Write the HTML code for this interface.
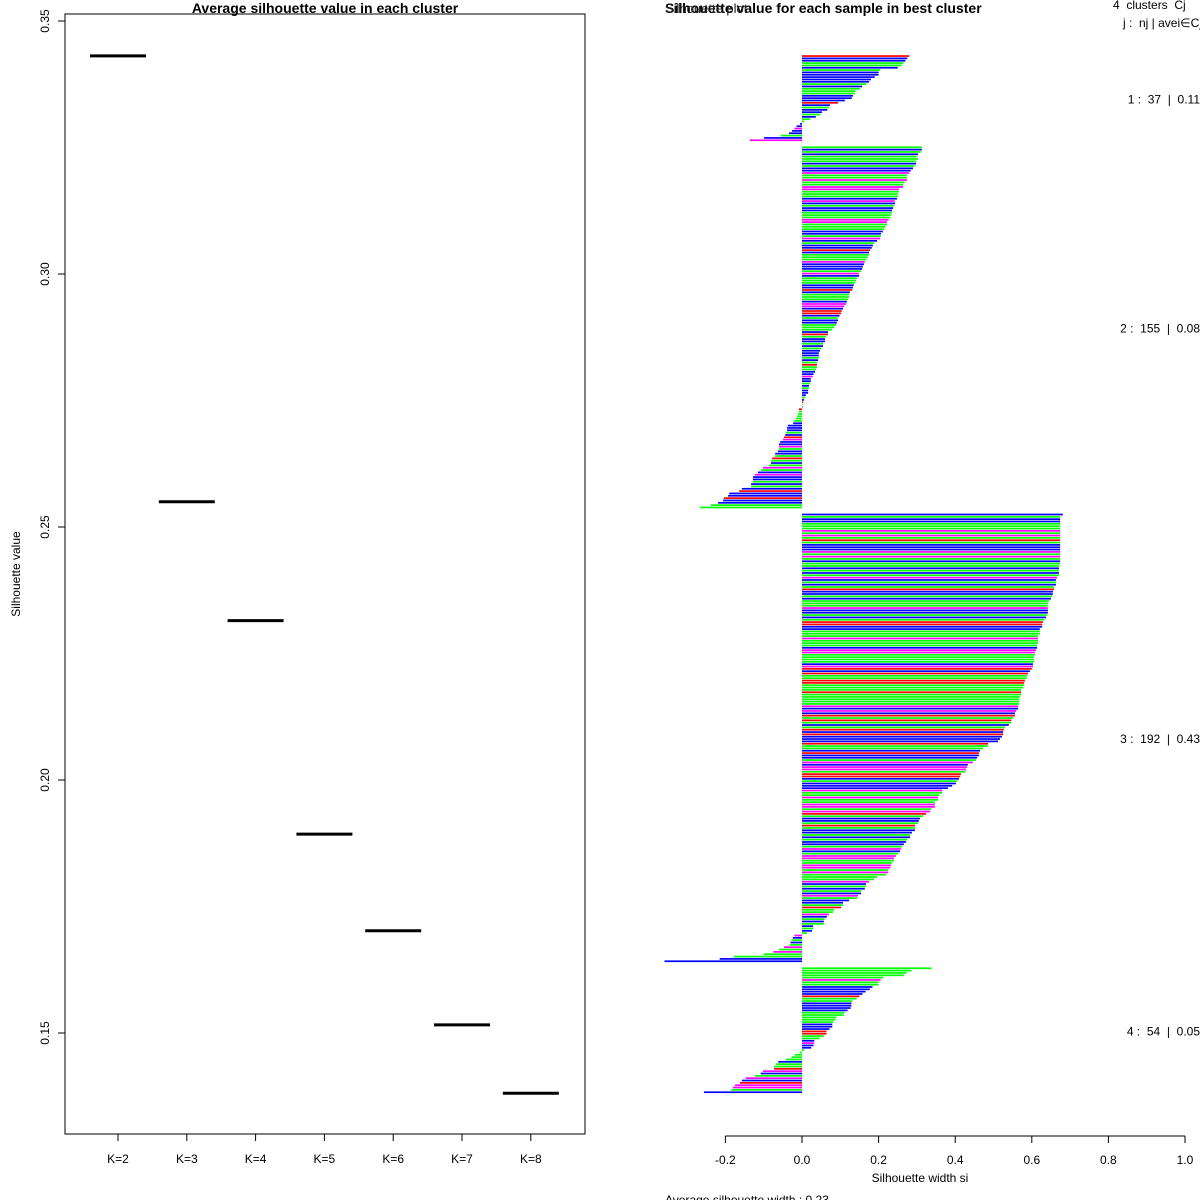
<!DOCTYPE html>
<html><head><meta charset="utf-8"><style>
html,body{margin:0;padding:0;background:#fff}
svg{display:block;font-family:"Liberation Sans",sans-serif}
</style></head><body>
<svg id="chart" width="1200" height="1200" viewBox="0 0 1200 1200">
<g id="left"></g>
<g id="right"></g>
</svg>
<script>
// ---- left panel data ----
const kLabels = ["K=2","K=3","K=4","K=5","K=6","K=7","K=8"];
const avgSil = [0.3431,0.2550,0.2315,0.1893,0.1702,0.1516,0.1381];
const yTicks = [0.15,0.20,0.25,0.30,0.35];

// ---- right panel data ----
const xTicks = [-0.2,0,0.2,0.4,0.6,0.8,1.0];
const clusterSizes = [37,155,192,54];
const clusterAvg = ["0.11","0.08","0.43","0.05"];
const c1 = [.28,.275,.27,.265,.26,.25,.204,.2,.2,.19,.18,.175,.168,.157,.151,.14,.138,.133,.13,.112,.094,.073,.07,.066,.052,.047,.036,.021,.006,-.005,-.014,-.02,-.026,-.034,-.055,-.099,-.136];
const c2 = [.313,.313,.31,.303,.3,.303,.298,.298,.294,.29,.284,.28,.274,.274,.274,.268,.264,.264,.253,.253,.25,.25,.248,.242,.243,.24,.238,.235,.235,.232,.23,.226,.222,.222,.218,.214,.211,.206,.206,.204,.196,.188,.185,.182,.178,.175,.175,.172,.168,.164,.162,.159,.157,.154,.149,.149,.144,.141,.138,.135,.133,.131,.125,.123,.123,.12,.117,.115,.11,.107,.104,.102,.098,.094,.094,.091,.089,.084,.078,.068,.068,.063,.06,.06,.055,.055,.05,.047,.044,.044,.044,.042,.039,.039,.039,.037,.034,.03,.028,.023,.023,.021,.018,.018,.016,.016,.01,.008,.005,.003,.001,
0,-.008,-.008,-.01,-.013,-.016,-.021,-.023,-.037,-.039,-.039,-.042,-.044,-.047,-.05,-.057,-.06,-.06,-.06,-.063,-.07,-.07,-.078,-.081,-.081,-.086,-.102,-.107,-.115,-.123,-.128,-.128,-.128,-.133,-.133,-.157,-.164,-.19,-.193,-.204,-.206,-.219,-.238,-.266];
const c3 = [.681,.674,.674,.674,.674,.674,.674,.674,.674,.674,.674,.674,.674,.674,.674,.674,.674,.674,.674,.674,.674,.674,.671,.671,.671,.671,.671,.666,.663,.663,.663,.658,.658,.655,.655,.653,.65,.645,.642,.642,.642,.642,.642,.64,.637,.632,.629,.627,.627,.621,.621,.621,.616,.616,.616,.616,.614,.614,.611,.608,.608,.606,.606,.606,.603,.603,.6,.595,.59,.587,.587,.582,.58,.58,.577,.572,.572,.572,.569,.567,.567,.567,.564,.564,.559,.556,.556,.551,.546,.546,.54,.53,.527,.525,.525,.522,.517,.512,.486,.486,.473,.465,.462,.462,.457,.454,.446,.433,.431,.428,.426,.415,.413,.41,.405,.402,.392,.381,.366,.366,.358,.355,.355,.347,.347,.347,.337,.334,.324,.316,.308,.305,.303,.295,.295,.295,.287,.282,.282,.274,.272,.266,.261,.258,.256,.251,.245,.24,.24,.235,.232,.23,.225,.225,.219,.196,.188,.175,.167,.167,.164,.154,.154,.146,.144,.123,.107,.107,.102,.084,.081,.07,.065,.059,.057,.057,.029,.029,.026,.013,-.02,-.024,-.027,-.03,-.032,-.047,-.06,-.075,-.1,-.178,-.215,-.359];
const c4 = [.338,.286,.273,.266,.212,.205,.2,.2,.184,.177,.166,.158,.15,.143,.131,.129,.129,.127,.119,.111,.109,.09,.087,.082,.079,.079,.072,.064,.064,.057,.046,.032,.032,.03,.024,.006,-.006,-.019,-.027,-.042,-.062,-.068,-.073,-.073,-.102,-.108,-.123,-.147,-.157,-.162,-.175,-.18,-.185,-.256];
const col1 = "rbbggbgbbbbbgbgggbbbrbgbbgbggbbmbbgbm";
const col2 = "gbgbgggbgbbmggmggmmgggbmbgbbgggmmgggbbgmbgbbrbgggmbbbgmbgggbbrbgggbmmbrrbgbbgggbrgbbgbgbbbgbgrggbbmbbgbgbbbgbrgbrgggggbbbbgbrmbbmgbbgrgbgmgbmbbgbgbrbbrbbggm";
const col3 = "bgbbgggmgmgrgbbbmgmgbggbgbgmbgbgrbbgbgggmbbgbgrrbbgggmgggbmmggggbmrbrggrrgggrgggggmbmbrgrgbgrbrbbbrggbrbbgmbmmgrrbgbbbmggmggmmgmrgbbgrgbbgbgbbgmbgmmggmmgmgggmbgbgbmgbbgrggmbgbgbgbgmbgbgmgmggbbgbgggbmgg";
const col4 = "gggggmggbbbbrggbbbbgggggbbbrrggbmbbgggggbggrmbgmbrmmgbbb";
const colorMap = {r:"#ff0000",g:"#00ff00",b:"#0000ff",m:"#ff00ff"};

const NS = "http://www.w3.org/2000/svg";
function mk(tag, attrs, parent){const e=document.createElementNS(NS,tag);for(const k in attrs)e.setAttribute(k,attrs[k]);parent.appendChild(e);return e;}

// ---- left panel ----
const L = document.getElementById('left');
const ly = v => 21 + (0.35 - v) * 5060;
const lx = i => 118 + i * 68.8;
let t = mk('text',{x:325,y:13,'text-anchor':'middle','font-size':14,'font-weight':'bold'},L);
t.textContent = "Average silhouette value in each cluster";


let box = mk('rect',{x:65,y:14,width:520,height:1120,fill:'none',stroke:'#000','stroke-width':1},L);


yTicks.forEach(v=>{
  const y = ly(v);
  const tk = mk('line',{x1:58,x2:65,y1:y,y2:y,stroke:'#000'},L);
  
  
  const lb = mk('text',{x:49,y:y,'font-size':12,'text-anchor':'middle',transform:`rotate(-90 49 ${y})`},L);
  lb.textContent = v.toFixed(2);
  
  
});
let yl = mk('text',{x:20,y:574,'font-size':12,'text-anchor':'middle',transform:'rotate(-90 20 574)'},L);
yl.textContent = "Silhouette value";


kLabels.forEach((k,i)=>{
  const x = lx(i);
  const tk = mk('line',{x1:x,x2:x,y1:1134,y2:1141,stroke:'#000'},L);
  
  
  const lb = mk('text',{x:x,y:1163,'font-size':12,'text-anchor':'middle'},L);
  lb.textContent = k;
  
  
  const seg = mk('line',{x1:x-28,x2:x+28,y1:ly(avgSil[i]),y2:ly(avgSil[i]),stroke:'#000','stroke-width':3},L);
  
  
});

// ---- right panel ----
const R = document.getElementById('right');
const rx = v => 802 + v * 383;
const unit = 2.339, top0 = 56;
let t2 = mk('text',{x:665,y:13,'font-size':14,'font-weight':'bold'},R);
t2.textContent = "Silhouette value for each sample in best cluster";


let t3 = mk('text',{x:665,y:13,'font-size':13,fill:'#222'},R);
t3.textContent = "Silhouette plot";


let hd1 = mk('text',{x:1113,y:9,'font-size':12},R);
hd1.textContent = "4\u00a0 clusters\u00a0 Cj";


let hd2 = mk('text',{x:1123,y:27,'font-size':12},R);
hd2.textContent = "j :\u00a0 nj | avei∈Cj\u00a0 si";



const clusters = [c1,c2,c3,c4];
const cols = [col1,col2,col3,col4];
let pos = 0;
clusters.forEach((vals,ci)=>{
  const startPos = pos;
  vals.forEach((v,i)=>{
    const y = top0 + pos * unit;
    const ch = cols[ci][i % cols[ci].length];
    const x0 = Math.min(rx(0), rx(v)), w = Math.max(0.5, Math.abs(rx(v)-rx(0)));
    const b = mk('rect',{x:x0,y:y-0.8,width:w,height:1.7,fill:colorMap[ch]},R);
    
    
    pos++;
  });
  const midY = top0 + (startPos + vals.length/2) * unit;
  const lb = mk('text',{x:1200,y:midY+4,'font-size':12,'text-anchor':'end'},R);
  lb.textContent = `${ci+1} :\u00a0 ${clusterSizes[ci]}\u00a0 |\u00a0 ${clusterAvg[ci]}`;
  
  
  pos += 2;
});
let ax = mk('line',{x1:rx(-0.2),x2:rx(1.0),y1:1136,y2:1136,stroke:'#000'},R);


xTicks.forEach(v=>{
  const x = rx(v);
  const tk = mk('line',{x1:x,x2:x,y1:1136,y2:1143,stroke:'#000'},R);
  
  
  const lb = mk('text',{x:x,y:1164,'font-size':12,'text-anchor':'middle'},R);
  lb.textContent = v.toFixed(1);
  
  
});
let xl = mk('text',{x:920,y:1182,'font-size':12,'text-anchor':'middle'},R);
xl.textContent = "Silhouette width si";


let av = mk('text',{x:665,y:1204,'font-size':12},R);
av.textContent = "Average silhouette width :  0.23";


</script>
</body></html>
